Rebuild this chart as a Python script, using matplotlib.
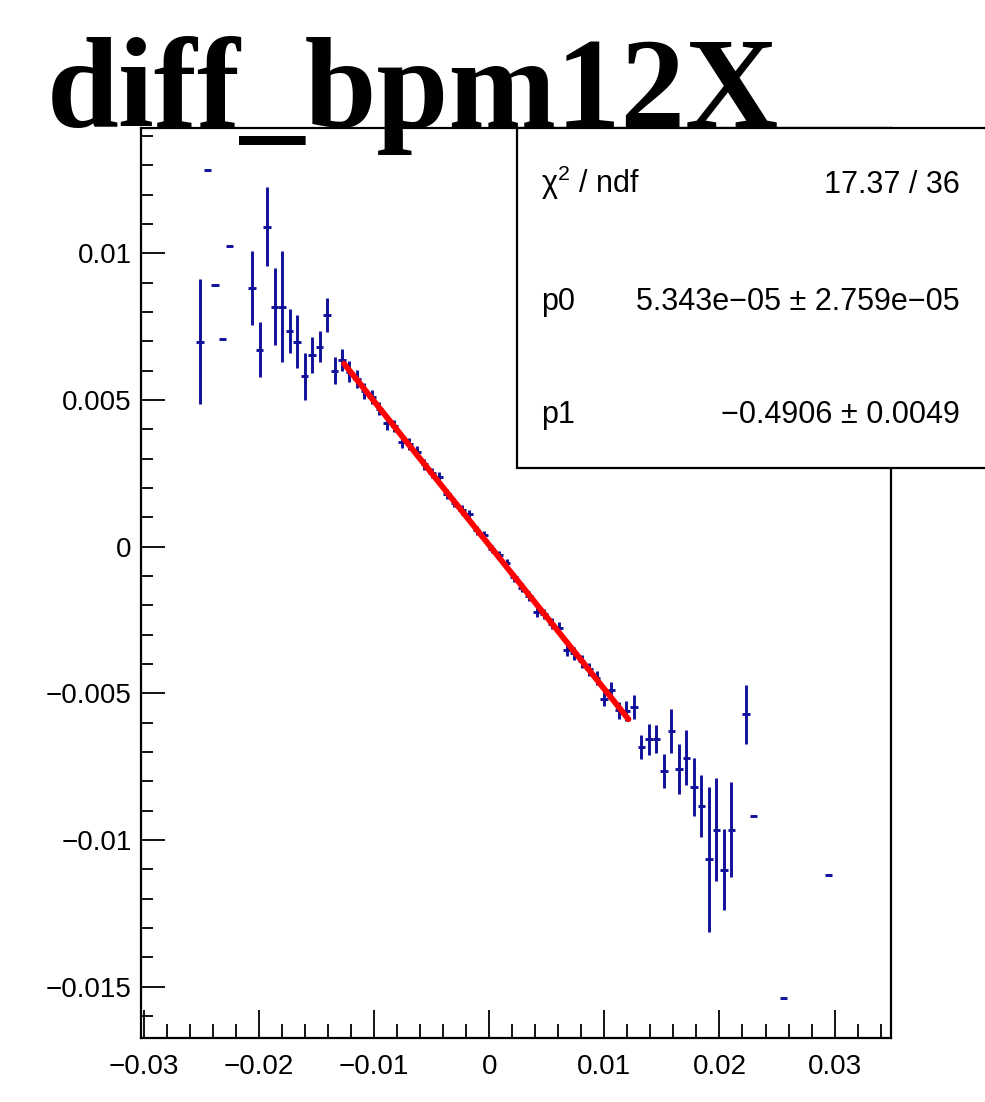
import numpy as np
import matplotlib
matplotlib.use('Agg')
import matplotlib.pyplot as plt
from matplotlib.patches import Rectangle
from matplotlib.ticker import MultipleLocator, FuncFormatter

# profile bins (centre, mean, error)
x_left = [-0.025125, -0.024475, -0.023825, -0.023175, -0.022525,
          -0.020575, -0.019925, -0.019275, -0.018625, -0.017975,
          -0.017325, -0.016675, -0.016025, -0.015375, -0.014725,
          -0.014075, -0.013425, -0.012775]
y_left = [0.00699, 0.01282, 0.00890, 0.00708, 0.01026,
          0.00882, 0.00671, 0.01090, 0.00818, 0.00818,
          0.00735, 0.00699, 0.00580, 0.00654, 0.00681,
          0.00791, 0.00600, 0.00636]
e_left = [0.00213, 0.0, 0.0, 0.0, 0.0,
          0.00126, 0.00093, 0.00134, 0.00130, 0.00189,
          0.00074, 0.00089, 0.00080, 0.00061, 0.00053,
          0.00058, 0.00047, 0.00039]

x_mid = [-0.012125, -0.011475, -0.010825, -0.010175, -0.009525,
         -0.008875, -0.008225, -0.007575, -0.006925, -0.006275,
         -0.005625, -0.004975, -0.004325, -0.003675, -0.003025,
         -0.002375, -0.001725, -0.001075, -0.000425, 0.000225,
         0.000875, 0.001525, 0.002175, 0.002825, 0.003475,
         0.004125, 0.004775, 0.005425, 0.006075, 0.006725,
         0.007375, 0.008025, 0.008675, 0.009325, 0.009975,
         0.010625, 0.011275, 0.011925, 0.012575]
y_mid = [0.00596, 0.00572, 0.00530, 0.00510, 0.00470,
         0.00420, 0.00412, 0.00357, 0.00350, 0.00323,
         0.00280, 0.00252, 0.00238, 0.00180, 0.00150,
         0.00125, 0.00110, 0.00055, 0.00039, -0.00008,
         -0.00029, -0.00057, -0.00105, -0.00140, -0.00168,
         -0.00222, -0.00230, -0.00262, -0.00276, -0.00353,
         -0.00364, -0.00390, -0.00418, -0.00448, -0.00518,
         -0.00489, -0.00558, -0.00560, -0.00546]
e_mid = [0.00036, 0.00030, 0.00026, 0.00024, 0.00022,
         0.00024, 0.00021, 0.00020, 0.00019, 0.00019,
         0.00018, 0.00017, 0.00017, 0.00016, 0.00016,
         0.00016, 0.00016, 0.00015, 0.00015, 0.00015,
         0.00015, 0.00016, 0.00016, 0.00016, 0.00017,
         0.00017, 0.00018, 0.00018, 0.00019, 0.00020,
         0.00021, 0.00022, 0.00023, 0.00024, 0.00026,
         0.00028, 0.00030, 0.00034, 0.00042]

x_right = [0.013225, 0.013875, 0.014525, 0.015175, 0.015825,
           0.016475, 0.017125, 0.017775, 0.018425, 0.019075,
           0.019725, 0.020375, 0.021025, 0.022325, 0.022975,
           0.025575, 0.029475]
y_right = [-0.00683, -0.00657, -0.00657, -0.00765, -0.00629,
           -0.00757, -0.00719, -0.00819, -0.00884, -0.01066,
           -0.00965, -0.01101, -0.00965, -0.00572, -0.00919,
           -0.01539, -0.01120]
e_right = [0.00041, 0.00052, 0.00048, 0.00057, 0.00074,
           0.00085, 0.00094, 0.00098, 0.00107, 0.00248,
           0.00176, 0.00138, 0.00162, 0.00099, 0.0,
           0.0, 0.0]

bin_width = 0.00065

# linear fit result
p0 = 5.343e-05
p1 = -0.4906
fit_range = [-0.0126, 0.0121]

title = 'diff_bpm12X'
stats_rows = [(r'$\mathregular{\chi^{2}}$ / ndf', '17.37 / 36'),
              ('p0', '5.343e\u221205 \u00b1 2.759e\u221205'),
              ('p1', '\u22120.4906 \u00b1 0.0049')]

x = np.array(x_left + x_mid + x_right)
y = np.array(y_left + y_mid + y_right)
err = np.array(e_left + e_mid + e_right)

sans = 'Liberation Sans'
plt.rcParams['mathtext.fontset'] = 'custom'
plt.rcParams['mathtext.rm'] = sans
plt.rcParams['mathtext.it'] = sans + ':italic'

fig = plt.figure(figsize=(9.85, 11.02), dpi=100)
ax = fig.add_axes([0.1435, 0.0585, 0.7611, 0.8249])

ax.errorbar(x, y, xerr=bin_width / 2, yerr=err, fmt='none',
            ecolor='#10109a', elinewidth=2.1, capsize=0, zorder=2)

fx = np.array(fit_range)
ax.plot(fx, p0 + p1 * fx, color='#ff0000', lw=4.2, zorder=3,
        solid_capstyle='round')

ax.set_xlim(-0.0302, 0.0349)
ax.set_ylim(-0.01673, 0.01425)

ax.xaxis.set_major_locator(MultipleLocator(0.01))
ax.xaxis.set_minor_locator(MultipleLocator(0.002))
ax.yaxis.set_major_locator(MultipleLocator(0.005))
ax.yaxis.set_minor_locator(MultipleLocator(0.001))


def fmt(v, pos):
    v = round(v, 6)
    if v == 0:
        return '0'
    return f'{v:g}'.replace('-', '\u2212')


ax.xaxis.set_major_formatter(FuncFormatter(fmt))
ax.yaxis.set_major_formatter(FuncFormatter(fmt))

ax.tick_params(axis='x', which='major', direction='in', length=20, width=1.3,
               pad=12, labelsize=20)
ax.tick_params(axis='x', which='minor', direction='in', length=10, width=1.3)
ax.tick_params(axis='y', which='major', direction='in', length=17, width=1.3,
               pad=7, labelsize=20)
ax.tick_params(axis='y', which='minor', direction='in', length=8.5, width=1.3)
ax.tick_params(top=False, right=False, which='both')
for lab in ax.get_xticklabels() + ax.get_yticklabels():
    lab.set_fontfamily(sans)

for s in ax.spines.values():
    s.set_linewidth(1.6)

# stats box
box = Rectangle((517 / 985, 1 - 468 / 1102), 0.6, 340 / 1102,
                transform=fig.transFigure, facecolor='white',
                edgecolor='black', linewidth=1.6, zorder=5)
fig.add_artist(box)
row_y = [193, 310, 423]
for (lab, val), py in zip(stats_rows, row_y):
    fig.text(541 / 985, 1 - py / 1102, lab, fontsize=22, family=sans,
             ha='left', va='baseline', zorder=6)
    fig.text(960 / 985, 1 - py / 1102, val, fontsize=22, family=sans,
             ha='right', va='baseline', zorder=6)

fig.text(47 / 985, 1 - 127 / 1102, title, fontsize=93,
         family='Liberation Serif', fontweight='bold',
         ha='left', va='baseline', zorder=7)

fig.savefig('out.png', dpi=100)
